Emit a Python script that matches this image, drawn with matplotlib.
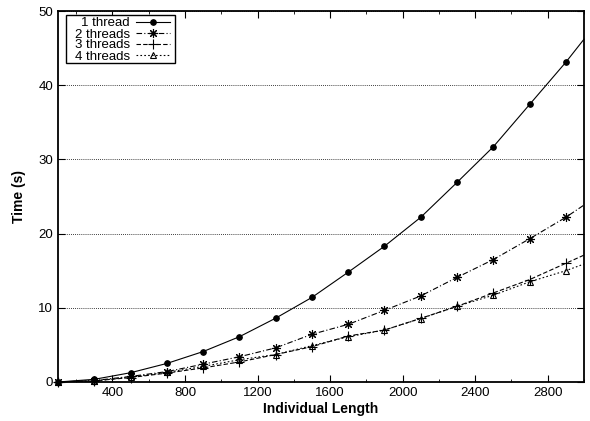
import numpy as np
import matplotlib.pyplot as plt
from matplotlib.ticker import MultipleLocator
from matplotlib.lines import Line2D
from matplotlib.patches import Rectangle

plt.rcParams['font.family'] = ['Liberation Sans', 'DejaVu Sans']

# sizes measured (last value is only the line tail past the plot edge)
lengths = [100, 300, 500, 700, 900, 1100, 1300, 1500, 1700, 1900, 2100, 2300, 2500, 2700, 2900, 3000]
t1 = [0.0, 0.36, 1.25, 2.5, 4.1, 6.1, 8.6, 11.4, 14.8, 18.3, 22.2, 26.9, 31.7, 37.4, 43.1, 46.2]
t2 = [0.0, 0.2, 0.75, 1.4, 2.4, 3.4, 4.6, 6.43, 7.77, 9.66, 11.6, 14.1, 16.5, 19.3, 22.2, 23.85]
t3 = [0.0, 0.15, 0.6, 1.2, 1.9, 2.7, 3.7, 4.76, 6.2, 7.0, 8.58, 10.2, 12.0, 13.8, 16.0, 17.1]
t4 = [0.0, 0.15, 0.65, 1.3, 2.1, 3.0, 3.7, 4.9, 6.1, 7.0, 8.55, 10.2, 11.7, 13.5, 15.0, 15.9]

labels = ['1 thread', '2 threads', '3 threads', '4 threads']

W, H = 590, 421
fig, ax = plt.subplots(figsize=(W / 100, H / 100), dpi=100)
fig.subplots_adjust(left=58 / W, right=584 / W, top=1 - 11 / H, bottom=1 - 382 / H)

styles = [
    dict(linestyle='-', marker='o', markersize=4, markerfacecolor='black'),
    dict(linestyle=(0, (5, 2, 1, 2)), marker=(8, 2, 0), markersize=6.5),
    dict(linestyle=(0, (4, 2)), marker='+', markersize=7),
    dict(linestyle=(0, (1.5, 2)), marker='^', markersize=5, markerfacecolor='none'),
]
for ys, lab, st in zip([t1, t2, t3, t4], labels, styles):
    ax.plot(lengths, ys, color='black', linewidth=0.8, markevery=list(range(len(lengths) - 1)),
            markeredgewidth=0.8, label=lab, clip_on=False, zorder=3, **st)

ax.set_xlim(100, 3000)
ax.set_ylim(0, 50)
ax.xaxis.set_minor_locator(MultipleLocator(200))
ax.yaxis.set_major_locator(MultipleLocator(10))
ax.set_xticks([400, 800, 1200, 1600, 2000, 2400, 2800])
ax.tick_params(which='both', direction='in', top=True, right=True, labelsize=9.5)
ax.tick_params(which='major', length=5)
ax.tick_params(which='minor', length=2.5)
ax.yaxis.grid(True, linestyle=(0, (1, 1.5)), color='black', linewidth=0.6)
for sp in ax.spines.values():
    sp.set_linewidth(1.3)
    sp.set_zorder(4)

ax.set_xlabel('Individual Length', fontsize=10, fontweight='bold', labelpad=2)
ax.set_ylabel('Time (s)', fontsize=10, fontweight='bold', labelpad=9)


# gnuplot-style key: right-aligned text, then the line sample
def fx(px):
    return (px - 58) / 526


def fy(py):
    return (382 - py) / 371


ax.add_patch(Rectangle((fx(66), fy(63)), fx(175) - fx(66), fy(15) - fy(63),
                       transform=ax.transAxes, fill=True, facecolor='white',
                       edgecolor='black', linewidth=1.0, zorder=5, clip_on=False))
for i, (lab, st) in enumerate(zip(labels, styles)):
    yrow = 22 + i * 11
    ax.text(fx(130), fy(yrow), lab, transform=ax.transAxes, ha='right', va='center_baseline',
            fontsize=9.5, zorder=6)
    ls = {k: v for k, v in st.items() if not k.startswith('marker')}
    ax.add_line(Line2D([fx(136), fx(170)], [fy(yrow), fy(yrow)], transform=ax.transAxes,
                       color='black', linewidth=0.8, zorder=6, clip_on=False, **ls))
    mk = {k: v for k, v in st.items() if k.startswith('marker')}
    ax.add_line(Line2D([fx(153)], [fy(yrow)], transform=ax.transAxes, color='black',
                       linestyle='none', markeredgewidth=0.8, zorder=6, clip_on=False, **mk))

fig.savefig('out.png', dpi=100)
